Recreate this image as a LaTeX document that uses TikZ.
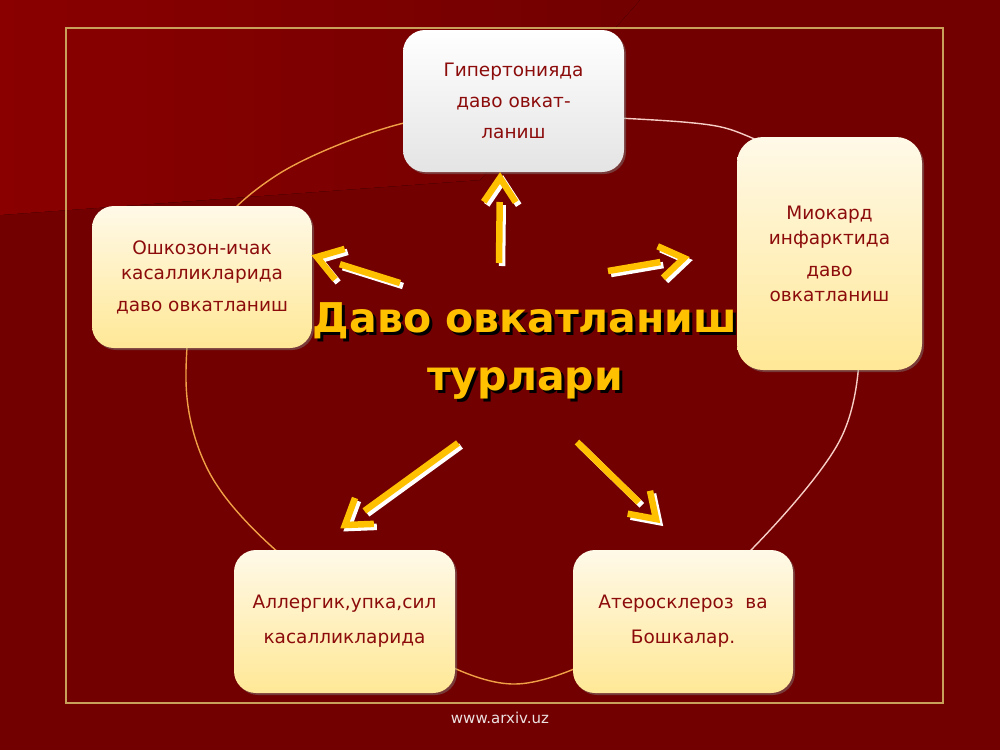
\documentclass[tikz,border=0pt]{standalone}
\usepackage{fontspec}
\setmainfont{DejaVu Sans}
\usepackage{xcolor}
\usepackage{tikz}
\usetikzlibrary{
  arrows.meta,
  calc,
  shadows
}
\definecolor{slidered}{RGB}{114,0,0}
\definecolor{bandred}{RGB}{138,0,0}
\definecolor{framegold}{RGB}{201,160,90}
\definecolor{titlegold}{RGB}{255,192,0}
\definecolor{boxtext}{RGB}{140,12,12}
\definecolor{creamtop}{RGB}{255,249,232}
\definecolor{creambot}{RGB}{255,232,150}
\definecolor{greytop}{RGB}{255,255,255}
\definecolor{greybot}{RGB}{228,228,228}
\definecolor{ringorange}{RGB}{240,160,70}
\definecolor{ringpink}{RGB}{246,206,198}
\definecolor{footgray}{RGB}{236,226,226}
\tikzset{
  kind/.style={draw=none,rounded corners=22pt,align=center,inner sep=0pt,
    top color=creamtop,bottom color=creambot,text=boxtext,
    font=\fontsize{18.5}{25}\selectfont,
    drop shadow={shadow xshift=2pt,shadow yshift=-2pt,opacity=.45}},
  kindgrey/.style={kind,top color=greytop,bottom color=greybot},
  ring/.style={line width=1.4pt},
  goldflow/.style={line width=6.5pt,draw=titlegold,miter limit=20},
  goldshade/.style={goldflow,draw=white,
    transform canvas={shift={(3pt,-3pt)}}},
  titletext/.style={font=\fontsize{41}{58}\selectfont\bfseries,
    align=center,text=titlegold,inner sep=0pt,anchor=base},
  titleshade/.style={titletext,text=black},
  foot/.style={font=\fontsize{15}{18}\selectfont,text=footgray}
}
% shaft from #1, open head with its point at #2
\newcommand{\dietarrow}[2]{%
  \path ($(#2)!24pt!(#1)$) coordinate (#2-base)
    ($(#2-base)!16pt!90:(#2)$) coordinate (#2-l)
    ($(#2-base)!16pt!-90:(#2)$) coordinate (#2-r);
  \draw[goldshade] (#1) -- (#2-base) (#2-l) -- (#2) -- (#2-r);
  \draw[goldflow] (#1) -- (#2-base) (#2-l) -- (#2) -- (#2-r);}
\newcommand{\ringpath}{plot[smooth cycle,tension=0.55] coordinates {
  (512,115) (683,122) (745,135) (800,170) (845,250) (860,340)
  (840,440) (753,548) (660,625) (515,684)
  (380,628) (270,545) (208,470) (186,380) (205,250) (277,175)
  (400,124)}}

\begin{document}
\begin{tikzpicture}[x=1pt,y=-1pt]
  \useasboundingbox (0,0) rectangle (1000,750);
  % slide background
  \fill[slidered] (0,0) rectangle (1000,750);
  \fill[left color=bandred,right color=slidered]
    (0,0) -- (640,0) -- (480,180) -- (0,215) -- cycle;
  \draw[framegold,line width=1.2pt] (66,28) rectangle (943,703);

  % ring behind the boxes
  \begin{scope}
    \clip (0,0) -- (560,0) -- (700,750) -- (0,750) -- cycle;
    \draw[ring,ringorange] \ringpath;
  \end{scope}
  \begin{scope}
    \clip (560,0) -- (1000,0) -- (1000,750) -- (700,750) -- cycle;
    \draw[ring,ringpink] \ringpath;
  \end{scope}

  % kinds of diet
  \node[kindgrey,minimum width=221pt,minimum height=142pt] (hyper) at (513.5,101)
    {Гипертонияда\\[6pt]даво овкат-\\[6pt]ланиш};
  \node[kind,minimum width=185pt,minimum height=233pt,rounded corners=26pt]
    (infarct) at (829.5,253.5)
    {Миокард\\инфарктида\\[7pt]даво\\овкатланиш};
  \node[kind,minimum width=220pt,minimum height=142pt] (gastro) at (202,277)
    {Ошкозон-ичак\\касалликларида\\[7pt]даво овкатланиш};
  \node[kind,minimum width=221pt,minimum height=143pt] (allergy) at (344.5,621.5)
    {Аллергик,упка,сил\\[10pt]касалликларида};
  \node[kind,minimum width=220pt,minimum height=143pt] (athero) at (683,621.5)
    {Атеросклероз\ \ ва\\[10pt]Бошкалар.};

  % arrows out of the title
  \coordinate (upA) at (499,263);  \coordinate (upB) at (500,178);
  \coordinate (rtA) at (608,271);  \coordinate (rtB) at (684,258);
  \coordinate (lfA) at (400,283);  \coordinate (lfB) at (317,257);
  \coordinate (dlA) at (458,443);  \coordinate (dlB) at (345,525);
  \coordinate (drA) at (577,442);  \coordinate (drB) at (656,519);
  \dietarrow{upA}{upB}
  \dietarrow{rtA}{rtB}
  \dietarrow{lfA}{lfB}
  \dietarrow{dlA}{dlB}
  \dietarrow{drA}{drB}

  % title
  \node[titleshade] (titlesh) at (528,393) {Даво овкатланиш\\турлари};
  \node[titletext] (title) at (525,390) {Даво овкатланиш\\турлари};

  \node[foot] (site) at (500,718) {www.arxiv.uz};
\end{tikzpicture}
\end{document}
